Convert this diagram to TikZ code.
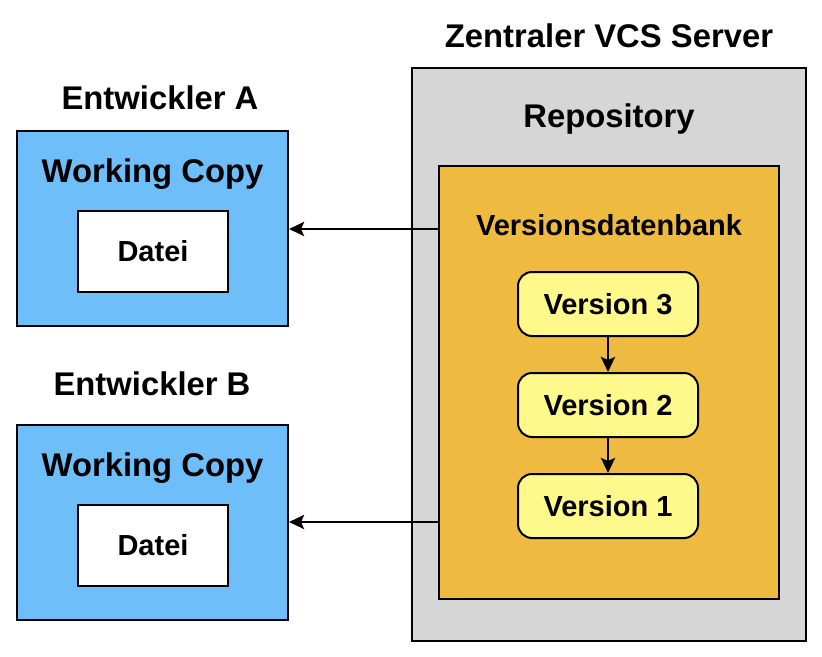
\documentclass[tikz,border=0pt]{standalone}
\usepackage{fontspec}
\setmainfont{Liberation Sans}
\usetikzlibrary{arrows.meta}
\definecolor{serverGray}{RGB}{214,214,214}
\definecolor{dbOrange}{RGB}{238,186,64}
\definecolor{copyBlue}{RGB}{110,190,250}
\definecolor{versionYellow}{RGB}{255,249,140}
\begin{document}
\begin{tikzpicture}
		[x=1pt,y=-1pt,
		box/.style={draw,line width=2pt,inner sep=0pt},
		label text/.style={font=\bfseries\fontsize{29}{31}\selectfont},
		title text/.style={font=\bfseries\fontsize{32.8}{35}\selectfont},
		version/.style={box,fill=versionYellow,rounded corners=14pt,
			minimum width=180pt,minimum height=64pt,label text},
		pfeil/.style={line width=2.8pt,-{Stealth[length=15pt,width=14pt,inset=3pt]}}
		]
		\useasboundingbox (0,0) rectangle (822,656);
		% Server
		\node[box,fill=serverGray,minimum width=394pt,minimum height=573pt] (server) at (609,354.5) {};
		\node[title text] (serverTitle) at (609,36) {Zentraler VCS Server};
		\node[title text] (repo) at (609,119) {Repository};
		\node[box,fill=dbOrange,minimum width=340pt,minimum height=433pt] (db) at (609,382.5) {};
		\node[label text] (dbTitle) at (609,225) {Versionsdatenbank};
		\node[version] (v3) at (608,304) {Version 3};
		\node[version] (v2) at (608,405) {Version 2};
		\node[version] (v1) at (608,506) {Version 1};
		\draw[pfeil] (v3) -- (v2);
		\draw[pfeil] (v2) -- (v1);
		% Entwickler A
		\node[title text] (devA) at (160,98) {Entwickler A};
		\node[box,fill=copyBlue,minimum width=271pt,minimum height=195pt] (wcA) at (152.5,228.5) {};
		\node[title text] (wcTitleA) at (152.5,174) {Working Copy};
		\node[box,fill=white,minimum width=150pt,minimum height=81pt,label text] (dateiA) at (153,251.5) {Datei};
		% Entwickler B
		\node[title text] (devB) at (152,384) {Entwickler B};
		\node[box,fill=copyBlue,minimum width=271pt,minimum height=195pt] (wcB) at (152.5,522.5) {};
		\node[title text] (wcTitleB) at (152.5,468) {Working Copy};
		\node[box,fill=white,minimum width=150pt,minimum height=81pt,label text] (dateiB) at (153,545.5) {Datei};
		% Checkout
		\coordinate (outA) at (db.west |- 0,229);
		\coordinate (outB) at (db.west |- 0,522);
		\draw[pfeil] (outA) -- (outA -| wcA.east);
		\draw[pfeil] (outB) -- (outB -| wcB.east);
	\end{tikzpicture}
\end{document}
